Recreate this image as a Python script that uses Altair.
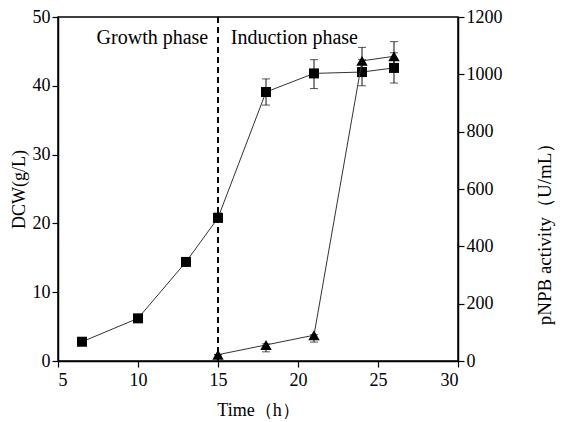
import altair as alt
import pandas as pd

# DCW data (left axis)
dcw_time = [6.5, 10, 13, 15, 18, 21, 24, 26]
dcw_val = [2.8, 6.2, 14.4, 20.8, 39.1, 41.8, 42.0, 42.6]
dcw_lo = [2.8, 6.2, 14.4, 20.3, 37.2, 39.6, 40.0, 40.4]
dcw_hi = [2.8, 6.2, 14.4, 21.5, 41.0, 43.8, 43.8, 44.8]

# pNPB activity data (right axis)
act_time = [15, 18, 21, 24, 26]
act_val = [22, 56, 90, 1047, 1063]
act_lo = [22, 32, 66, 1000, 1012]
act_hi = [22, 60, 92, 1094, 1114]

phase_x = [15]
growth_text = ["Growth phase"]
growth_x = [10.9]
induct_text = ["Induction phase"]
induct_x = [15.8]
label_y = [47]

FONT = "Liberation Serif"

dcw = pd.DataFrame({"t": dcw_time, "v": dcw_val, "lo": dcw_lo, "hi": dcw_hi})
act = pd.DataFrame({"t": act_time, "v": act_val, "lo": act_lo, "hi": act_hi})
ann_g = pd.DataFrame({"t": growth_x, "y": label_y, "txt": growth_text})
ann_i = pd.DataFrame({"t": induct_x, "y": label_y, "txt": induct_text})

xs = alt.Scale(domain=[5, 30], nice=False)
x_axis = alt.Axis(
    title="Time（h）", values=[5 + 2.5 * i for i in range(11)], format="d",
    labelExpr="datum.value % 5 === 0 ? datum.label : ''",
    tickSize={"condition": {"test": "datum.value % 5 === 0", "value": 6}, "value": 4},
    grid=False, titlePadding=12, labelPadding=4,
)
ys_l = alt.Scale(domain=[0, 50], nice=False)
y_axis_l = alt.Axis(
    title="DCW(g/L)", values=list(range(0, 51, 5)), format="d",
    labelExpr="datum.value % 10 === 0 ? datum.label : ''",
    tickSize={"condition": {"test": "datum.value % 10 === 0", "value": 6}, "value": 4},
    grid=False, orient="left", titlePadding=4,
)
ys_r = alt.Scale(domain=[0, 1200], nice=False)
y_axis_r = alt.Axis(
    title="pNPB activity（U/mL）", values=list(range(0, 1201, 100)), format="d",
    labelExpr="datum.value % 200 === 0 ? datum.label : ''",
    tickSize={"condition": {"test": "datum.value % 200 === 0", "value": 6}, "value": 4},
    grid=False, orient="right", titleAngle=270, titleFontSize=19,
    titleBaseline="middle", titleX=86, titleY=212,
)

X = alt.X("t:Q", scale=xs, axis=x_axis)

base_l = alt.Chart(dcw)
l_line = base_l.mark_line(color="#333", strokeWidth=1).encode(
    x=X, y=alt.Y("v:Q", scale=ys_l, axis=y_axis_l))
l_err = base_l.mark_errorbar(ticks={"size": 8}, color="#111", thickness=1).encode(
    x=X, y=alt.Y("lo:Q", scale=ys_l, title="DCW(g/L)"), y2="hi:Q")
l_pts = base_l.mark_square(size=100, color="black", opacity=1).encode(
    x=X, y=alt.Y("v:Q", scale=ys_l))
rule = alt.Chart(pd.DataFrame({"t": phase_x})).mark_rule(
    color="black", strokeWidth=2, strokeDash=[6, 4]).encode(x=X)
txt_g = alt.Chart(ann_g).mark_text(
    font=FONT, fontSize=20, align="center", baseline="middle", color="black"
).encode(x=alt.X("t:Q", scale=xs), y=alt.Y("y:Q", scale=ys_l), text="txt:N")
txt_i = alt.Chart(ann_i).mark_text(
    font=FONT, fontSize=20, align="left", baseline="middle", color="black"
).encode(x=alt.X("t:Q", scale=xs), y=alt.Y("y:Q", scale=ys_l), text="txt:N")

left = alt.layer(l_err, l_line, l_pts, rule, txt_g, txt_i)

base_r = alt.Chart(act)
r_line = base_r.mark_line(color="#333", strokeWidth=1).encode(
    x=X, y=alt.Y("v:Q", scale=ys_r, axis=y_axis_r))
r_err = base_r.mark_errorbar(ticks={"size": 8}, color="#111", thickness=1).encode(
    x=X, y=alt.Y("lo:Q", scale=ys_r, title="pNPB activity（U/mL）"), y2="hi:Q")
r_pts = base_r.mark_point(shape="triangle-up", size=130, filled=True, color="black", opacity=1).encode(
    x=X, y=alt.Y("v:Q", scale=ys_r))
right = alt.layer(r_err, r_line, r_pts)

chart = alt.layer(left, right).resolve_scale(y="independent").properties(
    width=400, height=344,
    autosize=alt.AutoSizeParams(type="none"),
    padding={"left": 50, "top": 9, "right": 100, "bottom": 60},
).configure_view(stroke="black", strokeWidth=1.5).configure_axis(
    labelFont=FONT, titleFont=FONT, labelFontSize=18, titleFontSize=18,
    titleFontWeight="normal", labelColor="black", titleColor="black",
    domainColor="black", tickColor="black", domainWidth=1.5, tickWidth=1.2,
    labelPadding=2,
)

chart.save("out.html", embed_options={"renderer": "svg", "actions": False})
